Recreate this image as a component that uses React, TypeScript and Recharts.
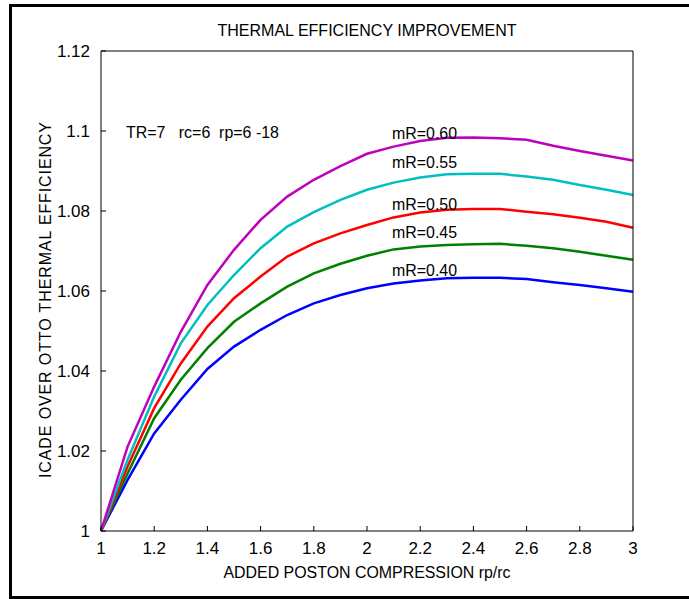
import React from "react";
import { LineChart, Line, XAxis, YAxis, ReferenceDot } from "recharts";

// rp/rc values along the x axis
const rpRatio = [1, 1.1, 1.2, 1.3, 1.4, 1.5, 1.6, 1.7, 1.8, 1.9, 2, 2.1, 2.2, 2.3, 2.4, 2.5, 2.6, 2.7, 2.8, 2.9, 3];

// efficiency ratio, one list per mR
const effMR040 = [1.0, 1.0128, 1.0244, 1.0328, 1.0405, 1.0461, 1.0503, 1.054, 1.0569, 1.059, 1.0607, 1.0619, 1.0626, 1.0632, 1.0633, 1.0633, 1.063, 1.0622, 1.0615, 1.0607, 1.0598];
const effMR045 = [1.0, 1.0144, 1.0282, 1.0378, 1.0457, 1.0523, 1.0569, 1.0611, 1.0644, 1.0668, 1.0688, 1.0704, 1.0711, 1.0715, 1.0717, 1.0718, 1.0713, 1.0707, 1.0698, 1.0688, 1.0678];
const effMR050 = [1.0, 1.0161, 1.0307, 1.0419, 1.0511, 1.0582, 1.0636, 1.0686, 1.0719, 1.0744, 1.0765, 1.0784, 1.0796, 1.0803, 1.0805, 1.0805, 1.0798, 1.0792, 1.0783, 1.0773, 1.0758];
const effMR055 = [1.0, 1.0178, 1.0336, 1.0469, 1.0565, 1.064, 1.0707, 1.0761, 1.0797, 1.0828, 1.0853, 1.0871, 1.0884, 1.0892, 1.0893, 1.0893, 1.0886, 1.0878, 1.0865, 1.0853, 1.084];
const effMR060 = [1.0, 1.0211, 1.0361, 1.0498, 1.0615, 1.0703, 1.0778, 1.0836, 1.0878, 1.0912, 1.0943, 1.0961, 1.0975, 1.0983, 1.0984, 1.0982, 1.0978, 1.0963, 1.095, 1.0938, 1.0926];

const seriesLabels = ["mR=0.40", "mR=0.45", "mR=0.50", "mR=0.55", "mR=0.60"];
const seriesValues = [effMR040, effMR045, effMR050, effMR055, effMR060];

const xTicks = [1, 1.2, 1.4, 1.6, 1.8, 2, 2.2, 2.4, 2.6, 2.8, 3];
const yTicks = [1, 1.02, 1.04, 1.06, 1.08, 1.1, 1.12];

const titleText = "THERMAL EFFICIENCY IMPROVEMENT";
const xLabelText = "ADDED POSTON COMPRESSION rp/rc";
const yLabelText = "ICADE OVER OTTO THERMAL EFFICIENCY";
const noteText = "TR=7   rc=6  rp=6 -18";

// MATLAB-ish line colours, same order as seriesLabels
const colors = ["#0000FF", "#008000", "#FF0000", "#00BFBF", "#BF00BF"];
// where the curve names sit (data coords)
const tagX = 2.094;
const tagY = [1.0653, 1.0749, 1.0819, 1.0924, 1.0996];

const FONT = '"Liberation Sans Narrow", "Liberation Sans", Arial, sans-serif';
const TICK_LEN = 5;

const chartData = rpRatio.map((x, i) => {
  const row: Record<string, number> = { x };
  seriesValues.forEach((vals, k) => {
    row["s" + k] = vals[i];
  });
  return row;
});

const fmt = (v: number) => String(Number(v.toFixed(2)));

// only the label text; the tick marks come from recharts (negative size = inward)
const BottomTick = (props: any) => {
  const { x, y, payload } = props;
  return (
    <text x={x} y={y} dy="0.36em" textAnchor="middle" fontFamily={FONT} fontSize={17} fill="#000">
      {fmt(payload.value)}
    </text>
  );
};

const LeftTick = (props: any) => {
  const { x, y, payload } = props;
  return (
    <text x={x} y={y} dy="0.36em" textAnchor="end" fontFamily={FONT} fontSize={17} fill="#000">
      {fmt(payload.value)}
    </text>
  );
};

const tagLabel = (text: string, len: number) => (p: any) => {
  const vb = p.viewBox || {};
  return (
    <text
      x={vb.x}
      y={vb.y}
      dy="0.36em"
      fontFamily={FONT}
      fontSize={17}
      fill="#000"
      textLength={len}
      lengthAdjust="spacingAndGlyphs"
      xmlSpace="preserve"
      style={{ whiteSpace: "pre" }}
    >
      {text}
    </text>
  );
};

export default function App() {
  return (
    <div
      style={{
        position: "absolute",
        left: 0,
        top: 0,
        width: 689,
        height: 599,
        overflow: "hidden",
        background: "#fff",
      }}
    >
      <div
        style={{
          position: "absolute",
          left: 9,
          top: 4,
          width: 720,
          height: 595,
          border: "3px solid #000",
          boxSizing: "border-box",
        }}
      />
      <svg width={689} height={50} style={{ position: "absolute", left: 0, top: 0 }}>
        <text
          x={367}
          y={30}
          dy="0.36em"
          textAnchor="middle"
          fontFamily={FONT}
          fontSize={16}
          textLength={299}
          lengthAdjust="spacingAndGlyphs"
        >
          {titleText}
        </text>
      </svg>
      <div style={{ position: "absolute", left: 0, top: 0 }}>
        <LineChart
          width={689}
          height={599}
          data={chartData}
          margin={{ top: 51, right: 56, bottom: 0, left: 0 }}
        >
          <XAxis
            xAxisId="top"
            dataKey="x"
            type="number"
            orientation="top"
            mirror
            domain={[1, 3]}
            ticks={xTicks}
            interval={0}
            height={0.001}
            tick={false}
            tickSize={TICK_LEN}
            stroke="#000"
          />
          <XAxis
            dataKey="x"
            type="number"
            domain={[1, 3]}
            ticks={xTicks}
            interval={0}
            height={68}
            tickSize={-TICK_LEN}
            tickMargin={22}
            tick={<BottomTick />}
            stroke="#000"
            label={{
              content: (p: any) => {
                const vb = p.viewBox || {};
                return (
                  <text
                    x={vb.x + vb.width / 2}
                    y={vb.y + 41}
                    dy="0.36em"
                    textAnchor="middle"
                    fontFamily={FONT}
                    fontSize={16}
                    textLength={287}
                    lengthAdjust="spacingAndGlyphs"
                  >
                    {xLabelText}
                  </text>
                );
              },
            }}
          />
          <YAxis
            yAxisId="right"
            type="number"
            orientation="right"
            mirror
            domain={[1, 1.12]}
            ticks={yTicks}
            interval={0}
            width={0.001}
            tick={false}
            tickSize={TICK_LEN}
            stroke="#000"
          />
          <YAxis
            type="number"
            domain={[1, 1.12]}
            ticks={yTicks}
            interval={0}
            width={101}
            tickSize={-TICK_LEN}
            tickMargin={16}
            tick={<LeftTick />}
            stroke="#000"
            label={{
              content: (p: any) => {
                const vb = p.viewBox || {};
                const cx = vb.x + 45;
                const cy = vb.y + vb.height / 2 + 9;
                return (
                  <text
                    x={cx}
                    y={cy}
                    dy="0.36em"
                    textAnchor="middle"
                    transform={`rotate(-90 ${cx} ${cy})`}
                    fontFamily='"Liberation Sans", Arial, sans-serif'
                    fontSize={16}
                    textLength={356}
                    lengthAdjust="spacing"
                  >
                    {yLabelText}
                  </text>
                );
              },
            }}
          />
          {seriesValues.map((_, k) => (
            <Line
              key={k}
              type="linear"
              dataKey={"s" + k}
              name={seriesLabels[k]}
              stroke={colors[k]}
              strokeWidth={2.5}
              dot={false}
              isAnimationActive={false}
            />
          ))}
          {seriesLabels.map((name, k) => (
            <ReferenceDot
              key={name}
              x={tagX}
              y={tagY[k]}
              r={0}
              stroke="none"
              fill="none"
              label={{ content: tagLabel(name, 65) }}
            />
          ))}
          <ReferenceDot
            x={1.094}
            y={1.0998}
            r={0}
            stroke="none"
            fill="none"
            label={{ content: tagLabel(noteText, 153) }}
          />
        </LineChart>
      </div>
    </div>
  );
}
